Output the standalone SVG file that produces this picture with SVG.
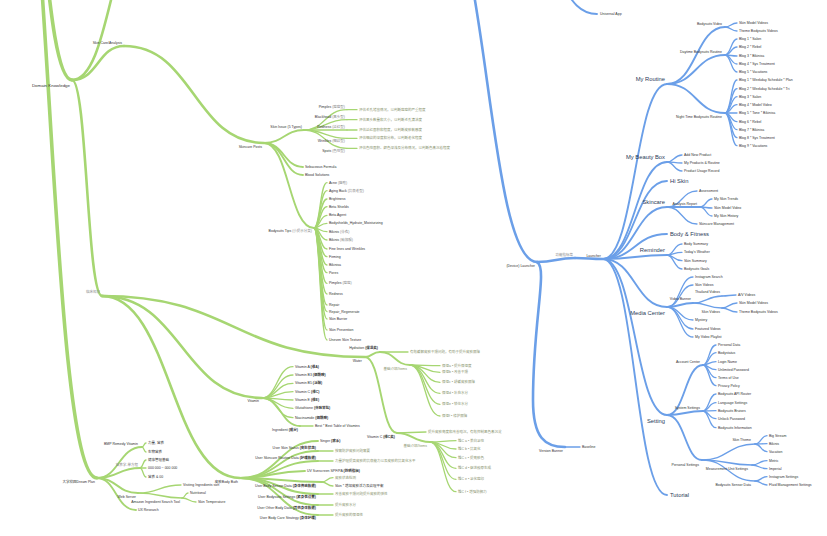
<svg xmlns="http://www.w3.org/2000/svg" width="827" height="536" viewBox="0 0 827 536">
<style>
path{fill:none;stroke-linecap:round}
.g path{stroke:#a6d672}
.b path{stroke:#6b9fe8}
.w4{stroke-width:3.6}.w3{stroke-width:2.6}.w2{stroke-width:1.9}.w1{stroke-width:1.3}
text{font-family:"Liberation Sans","Noto Sans CJK SC",sans-serif;font-size:3.5px;fill:#333;dominant-baseline:central}
.e{text-anchor:end}
.d{fill:#8a9470}
.gr{fill:#888}
.L{font-size:5.8px;fill:#2a3a58}
.M{font-size:4.4px}
</style>
<rect width="827" height="536" fill="#fff"/>
<g id="connectors">
<g class="g">
<g class="w4"><path d="M14,-200 C43,-200 43,80 72,80"/><path d="M14,-200 C50,-200 50,478 97,478"/></g>
<g class="w3">
<path d="M72,80 C111,80 111,-80 150,-80"/><path d="M72,80 C98,80 98,46 124,46"/><path d="M124,46 C194,46 194,143 264,143"/><path d="M72,80 C87,80 87,296 102,296"/>
<path d="M102,296 C233,296 233,357 365,357"/><path d="M102,296 C182,296 182,398 262,398"/><path d="M102,296 C171,296 171,478 240,478"/>
</g>
<g class="w2">
<path d="M264,143 C284,143 284,130 304,130"/><path d="M264,143 C284,143 284,167 303,167"/><path d="M264,143 C284,143 284,175 303,175"/><path d="M264,143 C289,143 289,228 314,228"/>
<path d="M365,357 C372,357 372,352 380,352"/><path d="M365,357 C381,357 381,433 397,433"/>
<path d="M380,352 C395,352 395,365 410,365"/><path d="M397,433 C413,433 413,442 430,442"/>
<path d="M240,478 C279,478 279,441 318,441"/><path d="M240,478 C279,478 279,451 318,451"/><path d="M240,478 C279,478 279,461 318,461"/><path d="M240,478 C272,478 272,471 305,471"/><path d="M240,478 C281,478 281,482 322,482"/><path d="M240,478 C279,478 279,494 318,494"/><path d="M240,478 C279,478 279,505 318,505"/><path d="M240,478 C279,478 279,515 318,515"/>
<path d="M97,478 C119,478 119,447 142,447"/><path d="M97,478 C118,478 118,468 140,468"/><path d="M97,478 C117,478 117,493 138,493"/><path d="M97,478 C116,478 116,510 136,510"/>
<path d="M262,398 C281,398 281,426 300,426"/>
</g>
<g class="w1">
<path d="M304,130 C325,130 325,109.7 347,109.7"/><path d="M304,130 C325,130 325,119.7 347,119.7"/><path d="M304,130 H347"/><path d="M304,130 C325,130 325,138.3 347,138.3"/><path d="M304,130 C325,130 325,148.3 347,148.3"/>
<path d="M347,109.7 H357"/><path d="M347,119.7 H357"/><path d="M347,130 H357"/><path d="M347,138.3 H357"/><path d="M347,148.3 H357"/>
<path d="M314,228 C320,228 320,182.7 327,182.7"/><path d="M314,228 C320,228 320,190.7 327,190.7"/><path d="M314,228 C320,228 320,199 327,199"/><path d="M314,228 C320,228 320,206.7 327,206.7"/><path d="M314,228 C320,228 320,215.3 327,215.3"/><path d="M314,228 C320,228 320,223.3 327,223.3"/><path d="M314,228 C320,228 320,231.7 327,231.7"/><path d="M314,228 C320,228 320,240 327,240"/><path d="M314,228 C320,228 320,249 327,249"/><path d="M314,228 C320,228 320,256.7 327,256.7"/><path d="M314,228 C320,228 320,265 327,265"/><path d="M314,228 C320,228 320,272.7 327,272.7"/><path d="M314,228 C320,228 320,283.3 327,283.3"/><path d="M314,228 C320,228 320,294 327,294"/><path d="M314,228 C320,228 320,305 327,305"/><path d="M314,228 C320,228 320,311.7 327,311.7"/><path d="M314,228 C320,228 320,319 327,319"/><path d="M314,228 C320,228 320,330 327,330"/><path d="M314,228 C320,228 320,340 327,340"/>
<path d="M380,352 H408"/>
<path d="M410,365 C425,365 425,365.7 440,365.7"/><path d="M410,365 C425,365 425,372.3 440,372.3"/><path d="M410,365 C425,365 425,382.3 440,382.3"/><path d="M410,365 C425,365 425,393.3 440,393.3"/><path d="M410,365 C425,365 425,404.3 440,404.3"/><path d="M410,365 C425,365 425,416 440,416"/>
<path d="M397,433 C411,433 411,432 426,432"/>
<path d="M430,442 C443,442 443,440.7 456,440.7"/><path d="M430,442 C443,442 443,449 456,449"/><path d="M430,442 C443,442 443,457.7 456,457.7"/><path d="M430,442 C443,442 443,468.3 456,468.3"/><path d="M430,442 C443,442 443,479.3 456,479.3"/><path d="M430,442 C443,442 443,491.7 456,491.7"/>
<path d="M262,398 C277,398 277,366.7 293,366.7"/><path d="M262,398 C277,398 277,375 293,375"/><path d="M262,398 C277,398 277,383.3 293,383.3"/><path d="M262,398 C277,398 277,391.7 293,391.7"/><path d="M262,398 C277,398 277,400 293,400"/><path d="M262,398 C277,398 277,408.3 293,408.3"/><path d="M262,398 C277,398 277,417.7 293,417.7"/>
<path d="M300,426 H313"/>
<path d="M318,451 H333"/><path d="M318,461 H333"/><path d="M322,482 C327,482 327,477.7 333,477.7"/><path d="M322,482 C327,482 327,486 333,486"/><path d="M318,494 H333"/><path d="M318,505 H333"/><path d="M318,515 H333"/>
<path d="M142,447 C144,447 144,443 146,443"/><path d="M142,447 C144,447 144,452 146,452"/>
<path d="M140,468 C143,468 143,460 146,460"/><path d="M140,468 H146"/><path d="M140,468 C143,468 143,477 146,477"/>
<path d="M138,493 C159,493 159,485 181,485"/><path d="M138,493 C160,493 160,498 182,498"/><path d="M182,498 C185,498 185,493 188,493"/><path d="M182,498 C189,498 189,502 196,502"/>
</g>
</g>
<g class="b">
<g class="w3">
<path d="M437,-100 C487,-100 487,262 537,262"/><path d="M537,262 C556,262 556,258 575,258"/><path d="M575,258 C589,258 589,259 603,259"/>
<path d="M537,262 C548,268 533,320 533,400 C533,438 545,447 565,447"/>
</g>
<g class="w2">
<path d="M530,-40 C563,-40 563,14 597,14"/>
<path d="M603,259 C635,259 635,84 667,84"/><path d="M603,259 C635,259 635,162 667,162"/><path d="M603,259 C635,259 635,181 667,181"/><path d="M603,259 C635,259 635,207 667,207"/><path d="M603,259 C635,259 635,234 667,234"/><path d="M603,259 C635,259 635,255 667,255"/><path d="M603,259 C635,259 635,307 667,307"/><path d="M603,259 C635,259 635,415 667,415"/><path d="M603,259 C635,259 635,495 667,495"/>
<path d="M667,84 C696,84 696,27 725,27"/><path d="M667,84 C696,84 696,55 725,55"/><path d="M667,84 C696,84 696,113 725,113"/>
<path d="M667,415 C685,415 685,365 703,365"/><path d="M667,415 C685,415 685,411 703,411"/><path d="M667,415 C685,415 685,460 702,460"/>
<path d="M667,307 C680,307 680,303 693,303"/><path d="M667,207 C683,207 683,207 700,207"/>
</g>
<g class="w1">
<path d="M565,447 H580"/>
<path d="M725,27 C731,27 731,23 737,23"/><path d="M725,27 C731,27 731,31 737,31"/>
<path d="M725,55 C731,55 731,39 737,39"/><path d="M725,55 C731,55 731,47 737,47"/><path d="M725,55 C731,55 731,56 737,56"/><path d="M725,55 C731,55 731,64 737,64"/><path d="M725,55 C731,55 731,72 737,72"/>
<path d="M725,113 C731,113 731,80 737,80"/><path d="M725,113 C731,113 731,88.7 737,88.7"/><path d="M725,113 C731,113 731,96.7 737,96.7"/><path d="M725,113 C731,113 731,104.7 737,104.7"/><path d="M725,113 H737"/><path d="M725,113 C731,113 731,121.7 737,121.7"/><path d="M725,113 C731,113 731,129.7 737,129.7"/><path d="M725,113 C731,113 731,137.7 737,137.7"/><path d="M725,113 C731,113 731,145.7 737,145.7"/>
<path d="M667,162 C674,162 674,155 682,155"/><path d="M667,162 C674,162 674,163 682,163"/><path d="M667,162 C674,162 674,171 682,171"/>
<path d="M667,207 C682,207 682,191 697,191"/><path d="M667,207 C682,207 682,224 697,224"/>
<path d="M700,207 C706,207 706,199 712,199"/><path d="M700,207 C706,207 706,208 712,208"/><path d="M700,207 C706,207 706,216 712,216"/>
<path d="M667,255 C674,255 674,244 682,244"/><path d="M667,255 C674,255 674,252.3 682,252.3"/><path d="M667,255 C674,255 674,260.7 682,260.7"/><path d="M667,255 C674,255 674,269 682,269"/>
<path d="M667,307 C680,307 680,277 693,277"/><path d="M667,307 C680,307 680,285 693,285"/><path d="M667,307 C680,307 680,320 693,320"/><path d="M667,307 C680,307 680,329 693,329"/><path d="M667,307 C680,307 680,337 693,337"/>
<path d="M693,303 C707,303 707,296 722,296"/><path d="M693,303 C707,303 707,308 722,308"/><path d="M722,296 C729,296 729,295 736,295"/><path d="M722,308 C729,308 729,303 737,303"/><path d="M722,308 C729,308 729,312 737,312"/>
<path d="M703,365 C709,365 709,345 716,345"/><path d="M703,365 C709,365 709,352.7 716,352.7"/><path d="M703,365 C709,365 709,361.7 716,361.7"/><path d="M703,365 C709,365 709,369.7 716,369.7"/><path d="M703,365 C709,365 709,377.7 716,377.7"/><path d="M703,365 C709,365 709,385.7 716,385.7"/>
<path d="M703,411 C709,411 709,394 716,394"/><path d="M703,411 C709,411 709,402.7 716,402.7"/><path d="M703,411 C709,411 709,410.7 716,410.7"/><path d="M703,411 C709,411 709,418.7 716,418.7"/><path d="M703,411 C709,411 709,427.7 716,427.7"/>
<path d="M702,460 C728,460 728,444 755,444"/><path d="M702,460 C727,460 727,465 752,465"/><path d="M702,460 C728,460 728,481 755,481"/>
<path d="M755,444 C761,444 761,435.7 767,435.7"/><path d="M755,444 C761,444 761,443.7 767,443.7"/><path d="M755,444 C761,444 761,451.7 767,451.7"/>
<path d="M752,465 C759,465 759,460.7 767,460.7"/><path d="M752,465 C759,465 759,468.7 767,468.7"/>
<path d="M755,481 C761,481 761,476.7 767,476.7"/><path d="M755,481 C761,481 761,485 767,485"/>
</g>
</g>
</g>

<g id="n-domain"><text class="e M" x="70" y="85">Domain Knowledge</text></g>
<g id="n-skinanalysis"><text class="e" x="122" y="43">Skin Care/Analysis</text></g>
<g id="n-posts"><text class="e" x="262" y="147">Skincare Posts</text></g>
<g id="n-issue"><text class="e" x="302" y="127">Skin Issue (5 Types)</text></g>
<g id="n-i1"><text class="e" x="345" y="106.7">Pimples <tspan class="gr">(痘痘型)</tspan></text><text class="d" x="359" y="109.7">评估毛孔堵塞情况，以判断痘痘的严重程度</text></g>
<g id="n-i2"><text class="e" x="345" y="116.7">Blackhead <tspan class="gr">(黑头型)</tspan></text><text class="d" x="359" y="119.7">评估黑头数量和大小，以判断毛孔清洁度</text></g>
<g id="n-i3"><text class="e" x="345" y="127">Redness <tspan class="gr">(泛红型)</tspan></text><text class="d" x="359" y="130">评估泛红面积和程度，以判断皮肤敏感度</text></g>
<g id="n-i4"><text class="e" x="345" y="141.3">Wrinkles <tspan class="gr">(细纹型)</tspan></text><text class="d" x="359" y="138.3">评估细纹的深度和分布，以判断老化程度</text></g>
<g id="n-i5"><text class="e" x="345" y="151.3">Spots <tspan class="gr">(色斑型)</tspan></text><text class="d" x="359" y="148.3">评估色斑面积、颜色深浅及分布情况，以判断色素沉着程度</text></g>
<g id="n-seb"><text x="305" y="167">Sebaceous Formula</text></g>
<g id="n-blood"><text x="305" y="175">Blood Solutions</text></g>
<g id="n-tips"><text class="e" x="312" y="231">Bodysuits Tips <tspan class="gr">(小提示分类)</tspan></text>
<text x="329" y="182.7">Acne <tspan class="gr">(痤疮)</tspan></text><text x="329" y="190.7">Aging Back <tspan class="gr">(抗衰老型)</tspan></text><text x="329" y="199">Brightness</text><text x="329" y="206.7">Beta Shields</text><text x="329" y="215.3">Beta Agent</text><text x="329" y="223.3">Bodyshields_Hydrate_Moisturizing</text><text x="329" y="231.7">Bikinis <tspan class="gr">(泳衣)</tspan></text><text x="329" y="240">Bikinis <tspan class="gr">(瑜伽服)</tspan></text><text x="329" y="249">Fine lines and Wrinkles</text><text x="329" y="256.7">Firming</text><text x="329" y="265">Bikinisa</text><text x="329" y="272.7">Pores</text><text x="329" y="283.3">Pimples <tspan class="gr">(痘痘)</tspan></text><text x="329" y="294">Redness</text><text x="329" y="305">Repair</text><text x="329" y="311.7">Repair_Regenerate</text><text x="329" y="319">Skin Barrier</text><text x="329" y="330">Skin Prevention</text><text x="329" y="340">Uneven Skin Texture</text></g>
<g id="n-clinic"><text class="e gr" x="100" y="292">临床知识</text></g>
<g id="n-water"><text class="e" x="362" y="361">Water</text></g>
<g id="n-hyd"><text class="e" x="378" y="348">Hydration <tspan font-weight="bold">(保湿类)</tspan></text><text class="d" x="410" y="352">有效缓解皮肤干燥问题，有助于提升皮肤屏障</text></g>
<g id="n-items1"><text class="e d" x="407" y="369">基础介绍/Items</text>
<text class="d" x="442" y="365.7">保湿a • 提升保湿度</text><text class="d" x="442" y="372.3">保湿b • 改善干燥</text><text class="d" x="442" y="382.3">保湿c • 舒缓皮肤屏障</text><text class="d" x="442" y="393.3">保湿d • 补充水分</text><text class="d" x="442" y="404.3">保湿e • 锁住水分</text><text class="d" x="442" y="416">保湿f • 修护屏障</text></g>
<g id="n-vitc"><text class="e" x="395" y="437">Vitamin C <tspan font-weight="bold">(维C类)</tspan></text><text class="d" x="428" y="432">提升皮肤亮度和改善暗沉，有效抑制黑色素沉淀</text></g>
<g id="n-items2"><text class="e d" x="427" y="446">基础介绍/Items</text>
<text class="d" x="458" y="440.7">维C a • 美白淡斑</text><text class="d" x="458" y="449">维C b • 抗氧化</text><text class="d" x="458" y="457.7">维C c • 提亮肤色</text><text class="d" x="458" y="468.3">维C d • 促进胶原生成</text><text class="d" x="458" y="479.3">维C e • 淡化痘印</text><text class="d" x="458" y="491.7">维C f • 增强防御力</text></g>
<g id="n-vitamin"><text class="e" x="259" y="401">Vitamin</text>
<text x="295" y="366.7">Vitamin A <tspan font-weight="bold">(维A)</tspan></text><text x="295" y="375">Vitamin B3 <tspan font-weight="bold">(烟酰胺)</tspan></text><text x="295" y="383.3">Vitamin B5 <tspan font-weight="bold">(泛醇)</tspan></text><text x="295" y="391.7">Vitamin C <tspan font-weight="bold">(维C)</tspan></text><text x="295" y="400">Vitamin E <tspan font-weight="bold">(维E)</tspan></text><text x="295" y="408.3">Glutathione <tspan font-weight="bold">(谷胱甘肽)</tspan></text><text x="295" y="417.7">Niacinamide <tspan font-weight="bold">(烟酰胺)</tspan></text></g>
<g id="n-ingr"><text class="e" x="298" y="430">Ingredient <tspan font-weight="bold">(成分)</tspan></text><text x="315" y="426">Best * Best Table of Vitamins</text></g>
<g id="n-bath"><text class="e" x="238" y="482">皮肤Body Bath</text>
<text x="320" y="441">Singer <tspan font-weight="bold">(歌手)</tspan></text>
<text class="e" x="316" y="448">User Skin Status <tspan font-weight="bold">(皮肤状态)</tspan></text><text class="d" x="335" y="451">按需防护皮肤问题需要</text>
<text class="e" x="316" y="458">User Skincare Routine Data <tspan font-weight="bold">(护理数据)</tspan></text><text class="d" x="335" y="461">力量护理提高皮肤的抗衰能力以及皮肤的抗氧化水平</text>
<text x="307" y="471">UV   Sunscreen SPF/PA <tspan font-weight="bold">(防晒指标)</tspan></text>
<text class="e" x="316" y="486">User Body Sensor Data <tspan font-weight="bold">(身体传感数据)</tspan></text><text class="d" x="335" y="477.7">皮肤状态检测</text><text x="335" y="486">Skin * 增加皮肤活力及纹理平衡</text>
<text class="e" x="316" y="497">User Bodysuits Settings <tspan font-weight="bold">(紧身衣设置)</tspan></text><text class="d" x="335" y="494">改善皮肤干燥问题提升皮肤的弹性</text>
<text class="e" x="316" y="508">User Other Body Data <tspan font-weight="bold">(其他身体数据)</tspan></text><text class="d" x="335" y="505">提升皮肤水分</text>
<text class="e" x="316" y="518">User Body Care Strategy <tspan font-weight="bold">(身体护理)</tspan></text><text class="d" x="335" y="515">提升皮肤的保湿性</text></g>
<g id="n-dream"><text class="e" x="95" y="482">大学校园Dream Plan</text>
<text class="e" x="138" y="444">BMP Remedy Vitamin</text><text x="148" y="443">力量, 营养</text><text x="148" y="452">生物营养</text>
<text class="e gr" x="138" y="465">营养学-单方程</text><text x="148" y="460">健康管理基础</text><text x="148" y="468">000 000 ~ 000 000</text><text x="148" y="477">营养 &amp; 00</text>
<text class="e" x="136" y="497">Web Server</text><text x="183" y="485">Visiting Ingredients sort</text>
<text class="e" x="180" y="502">Amazon Ingredient Search Tool</text><text x="190" y="493">Nutritional</text><text x="198" y="502">Skin Temperature</text>
<text x="138" y="510">UX Research</text></g>

<g id="n-universal"><text x="600" y="14">Universal App</text></g>
<g id="n-device"><text class="e" x="535" y="266">(Device) Launcher</text></g>
<g id="n-func"><text class="e gr" x="573" y="255">功能指标菜</text></g>
<g id="n-launcher"><text class="e" x="601" y="256">Launcher</text></g>
<g id="n-version"><text class="e" x="563" y="451">Version Banner</text><text x="582" y="447">Baseline</text></g>
<g id="n-routine"><text class="e L" x="665" y="79">My Routine</text>
<text class="e" x="722" y="23.5">Bodysuits Video</text><text x="739" y="23">Skin Model Videos</text><text x="739" y="31">Theme Bodysuits Videos</text>
<text class="e" x="722" y="51.5">Daytime Bodysuits Routine</text><text x="739" y="39">Blog 1 * Salon</text><text x="739" y="47">Blog 2 * Rebel</text><text x="739" y="56">Blog 3 * Bikinisa</text><text x="739" y="64">Blog 4 * Sys Treatment</text><text x="739" y="72">Blog 5 * Vacations</text>
<text class="e" x="722" y="117">Night Time Bodysuits Routine</text><text x="739" y="80">Blog 1 * Weekday Schedule * Plan</text><text x="739" y="88.7">Blog 2 * Weekday Schedule * Tri</text><text x="739" y="96.7">Blog 3 * Salon</text><text x="739" y="104.7">Blog 4 * Model Video</text><text x="739" y="113">Blog 5 * Tone * Bikinisa</text><text x="739" y="121.7">Blog 6 * Rebel</text><text x="739" y="129.7">Blog 7 * Bikinisa</text><text x="739" y="137.7">Blog 8 * Sys Treatment</text><text x="739" y="145.7">Blog 9 * Vacations</text></g>
<g id="n-box"><text class="e L" x="665" y="157">My Beauty Box</text><text x="684" y="155">Add New Product</text><text x="684" y="163">My Products &amp; Routine</text><text x="684" y="171">Product Usage Record</text></g>
<g id="n-hiskin"><text class="L" x="670" y="181">Hi Skin</text></g>
<g id="n-skincare"><text class="e L" x="665" y="202">Skincare</text><text x="699" y="191">Assessment</text><text class="e" x="697" y="203.5">Analysis Report</text><text x="714" y="199">My Skin Trends</text><text x="714" y="208">Skin Model Video</text><text x="714" y="216">My Skin History</text><text x="699" y="224">Skincare Management</text></g>
<g id="n-body"><text class="L" x="670" y="234">Body &amp; Fitness</text></g>
<g id="n-reminder"><text class="e L" x="665" y="250">Reminder</text><text x="684" y="244">Body Summary</text><text x="684" y="252.3">Today's Weather</text><text x="684" y="260.7">Skin Summary</text><text x="684" y="269">Bodysuits Goals</text></g>
<g id="n-media"><text class="e L" x="665" y="313">Media Center</text><text x="695" y="277">Instagram Search</text><text x="695" y="285">Skin Videos</text><text class="e" x="691" y="299">Video Banner</text><text class="e" x="720" y="292">Thailand Videos</text><text x="738" y="295">A/V Videos</text><text class="e" x="720" y="312">Skin Videos</text><text x="739" y="303">Skin Model Videos</text><text x="739" y="312">Theme Bodysuits Videos</text><text x="695" y="320">Mystery</text><text x="695" y="329">Featured Videos</text><text x="695" y="337">My Video Playlist</text></g>
<g id="n-setting"><text class="e L" x="665" y="421">Setting</text>
<text class="e" x="700" y="361.5">Account Center</text><text x="718" y="345">Personal Data</text><text x="718" y="352.7">Bodystatus</text><text x="718" y="361.7">Login Name</text><text x="718" y="369.7">Unlimited Password</text><text x="718" y="377.7">Terms of Use</text><text x="718" y="385.7">Privacy Policy</text>
<text class="e" x="700" y="407.5">System Settings</text><text x="718" y="394">Bodysuits API Router</text><text x="718" y="402.7">Language Settings</text><text x="718" y="410.7">Bodysuits Bruises</text><text x="718" y="418.7">Unlock Password</text><text x="718" y="427.7">Bodysuits Information</text>
<text class="e" x="699" y="464.5">Personal Settings</text><text class="e" x="751" y="440">Skin Theme</text><text x="769" y="435.7">Big Stream</text><text x="769" y="443.7">Bikinis</text><text x="769" y="451.7">Vacation</text>
<text class="e" x="748" y="469">Measurement Unit Settings</text><text x="769" y="460.7">Metric</text><text x="769" y="468.7">Imperial</text>
<text class="e" x="751" y="485">Bodysuits Sensor Data</text><text x="769" y="476.7">Instagram Settings</text><text x="769" y="485">Fluid Management Settings</text></g>
<g id="n-tutorial"><text class="L" x="670" y="495">Tutorial</text></g>
</svg>
